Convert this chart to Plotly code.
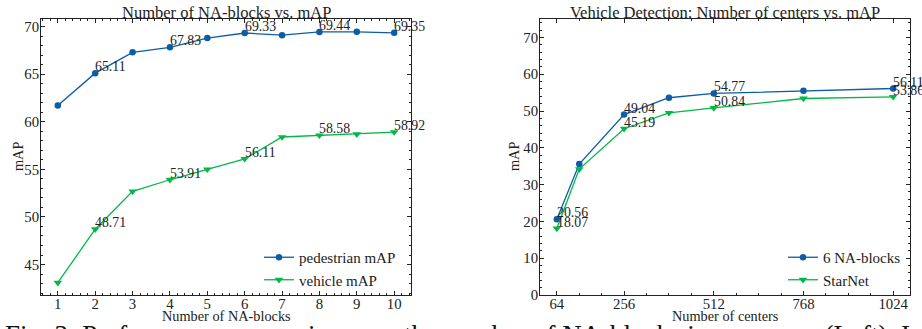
import plotly.graph_objects as go

# ---------------- data ----------------
na_blocks = [1, 2, 3, 4, 5, 6, 7, 8, 9, 10]
pedestrian_map = [61.7, 65.11, 67.3, 67.83, 68.8, 69.33, 69.1, 69.44, 69.45, 69.35]
vehicle_map = [43.1, 48.71, 52.7, 53.91, 55.0, 56.11, 58.4, 58.58, 58.7, 58.92]
left_label_idx = [1, 3, 5, 7, 9]

centers = [64, 128, 256, 384, 512, 768, 1024]
na6_map = [20.56, 35.6, 49.04, 53.6, 54.77, 55.5, 56.11]
starnet_map = [18.07, 34.2, 45.19, 49.5, 50.84, 53.4, 53.86]
right_label_idx = [0, 2, 4, 6]

left_xticks = [1, 2, 3, 4, 5, 6, 7, 8, 9, 10]
left_yticks = [45, 50, 55, 60, 65, 70]
right_xticks = [64, 256, 512, 768, 1024]
right_yticks = [0, 10, 20, 30, 40, 50, 60, 70]

left_title = "Number of NA-blocks vs. mAP"
right_title = "Vehicle Detection: Number of centers vs. mAP"
caption = "Fig. 3: Performance comparisons on the number of NA-blocks in our scene (Left). In"

BLUE = "#0C5DA5"
GREEN = "#00B945"
FONT = "Liberation Serif"
TXT = "#222222"

W, H = 922, 329
L1, R1 = 41, 411
L2, R2 = 540, 910
TOP, BOT = 19, 295

fig = go.Figure()

def add_series(x, y, name, color, symbol, xa, ya, legend, size):
    fig.add_trace(go.Scatter(
        x=x, y=y, name=name, mode="lines+markers",
        line=dict(color=color, width=1.3),
        marker=dict(color=color, symbol=symbol, size=size),
        xaxis=xa, yaxis=ya, legend=legend, cliponaxis=False))

add_series(na_blocks, pedestrian_map, "pedestrian mAP", BLUE, "circle", "x", "y", "legend", 6.5)
add_series(na_blocks, vehicle_map, "vehicle mAP", GREEN, "triangle-down", "x", "y", "legend", 7.5)
add_series(centers, na6_map, "6 NA-blocks", BLUE, "circle", "x2", "y2", "legend2", 6.5)
add_series(centers, starnet_map, "StarNet", GREEN, "triangle-down", "x2", "y2", "legend2", 7.5)

annotations = []

def label_points(x, y, idxs, xref, yref):
    for i in idxs:
        annotations.append(dict(
            x=x[i], y=y[i], xref=xref, yref=yref, text=f"{y[i]:.2f}",
            showarrow=False, xanchor="left", yanchor="bottom", yshift=-3, xshift=-2,
            font=dict(family=FONT, size=13.8, color=TXT)))

label_points(na_blocks, pedestrian_map, left_label_idx, "x", "y")
label_points(na_blocks, vehicle_map, left_label_idx, "x", "y")
label_points(centers, na6_map, right_label_idx, "x2", "y2")
label_points(centers, starnet_map, right_label_idx, "x2", "y2")

def px(xp):
    return xp / W

def py(yp):
    return 1 - yp / H

# titles
annotations.append(dict(x=px((L1 + R1) / 2), y=py(12), xref="paper", yref="paper",
                        text=left_title, showarrow=False, xanchor="center", yanchor="middle",
                        font=dict(family=FONT, size=16.5, color=TXT)))
annotations.append(dict(x=px((L2 + R2) / 2), y=py(12), xref="paper", yref="paper",
                        text=right_title, showarrow=False, xanchor="center", yanchor="middle",
                        font=dict(family=FONT, size=16.5, color=TXT)))
# axis titles
annotations.append(dict(x=px((L1 + R1) / 2), y=py(316), xref="paper", yref="paper",
                        text="Number of NA-blocks", showarrow=False, xanchor="center", yanchor="middle",
                        font=dict(family=FONT, size=14.3, color=TXT)))
annotations.append(dict(x=px((L2 + R2) / 2), y=py(316), xref="paper", yref="paper",
                        text="Number of centers", showarrow=False, xanchor="center", yanchor="middle",
                        font=dict(family=FONT, size=14.3, color=TXT)))
annotations.append(dict(x=px(18), y=py(157), xref="paper", yref="paper",
                        text="mAP", showarrow=False, textangle=-90, xanchor="center", yanchor="middle",
                        font=dict(family=FONT, size=14.3, color=TXT)))
annotations.append(dict(x=px(514), y=py(157), xref="paper", yref="paper",
                        text="mAP", showarrow=False, textangle=-90, xanchor="center", yanchor="middle",
                        font=dict(family=FONT, size=14.3, color=TXT)))
# caption (cut by the bottom edge)
annotations.append(dict(x=px(3), y=py(318), xref="paper", yref="paper",
                        text=caption, showarrow=False, xanchor="left", yanchor="top",
                        font=dict(family=FONT, size=27, color="#111111")))

axis_common = dict(
    showline=True, linecolor="#222222", linewidth=1, mirror="allticks",
    ticks="inside", ticklen=4, tickwidth=0.8, tickcolor="#222222",
    showgrid=False, zeroline=False, automargin=False,
    tickfont=dict(family=FONT, size=14.8, color=TXT),
)

fig.update_layout(
    width=W, height=H, margin=dict(l=0, r=0, t=0, b=0, autoexpand=False),
    paper_bgcolor="white", plot_bgcolor="white",
    xaxis=dict(axis_common, domain=[px(L1), px(R1)], range=[0.55, 10.45],
               tickvals=left_xticks, anchor="y", ticklabelstandoff=-5,
               minor=dict(ticks="inside", ticklen=2, dtick=0.2, tick0=0, tickcolor="#222222")),
    yaxis=dict(axis_common, domain=[py(BOT), py(TOP)], range=[41.8, 70.8],
               tickvals=left_yticks, anchor="x", ticklabelstandoff=-2,
               minor=dict(ticks="inside", ticklen=2, dtick=1, tick0=0, tickcolor="#222222")),
    xaxis2=dict(axis_common, domain=[px(L2), px(R2)], range=[16, 1072],
                tickvals=right_xticks, anchor="y2", ticklabelstandoff=-5,
                minor=dict(ticks="inside", ticklen=2, dtick=64, tick0=0, tickcolor="#222222")),
    yaxis2=dict(axis_common, domain=[py(BOT), py(TOP)], range=[0, 75],
                tickvals=right_yticks, anchor="x2", ticklabelstandoff=-2,
                minor=dict(ticks="inside", ticklen=2, dtick=2, tick0=0, tickcolor="#222222")),
    legend=dict(x=px(259), y=py(241), xanchor="left", yanchor="top",
                bgcolor="rgba(0,0,0,0)", font=dict(family=FONT, size=15, color=TXT),
                tracegroupgap=0, itemwidth=30),
    legend2=dict(x=px(783), y=py(241), xanchor="left", yanchor="top",
                 bgcolor="rgba(0,0,0,0)", font=dict(family=FONT, size=15, color=TXT),
                 tracegroupgap=0, itemwidth=30),
    annotations=annotations,
    showlegend=True,
)

fig.write_html(
    "out.html",
    config={"displayModeBar": False},
    post_script="document.body.style.margin='0';document.body.style.overflow='hidden';",
)
